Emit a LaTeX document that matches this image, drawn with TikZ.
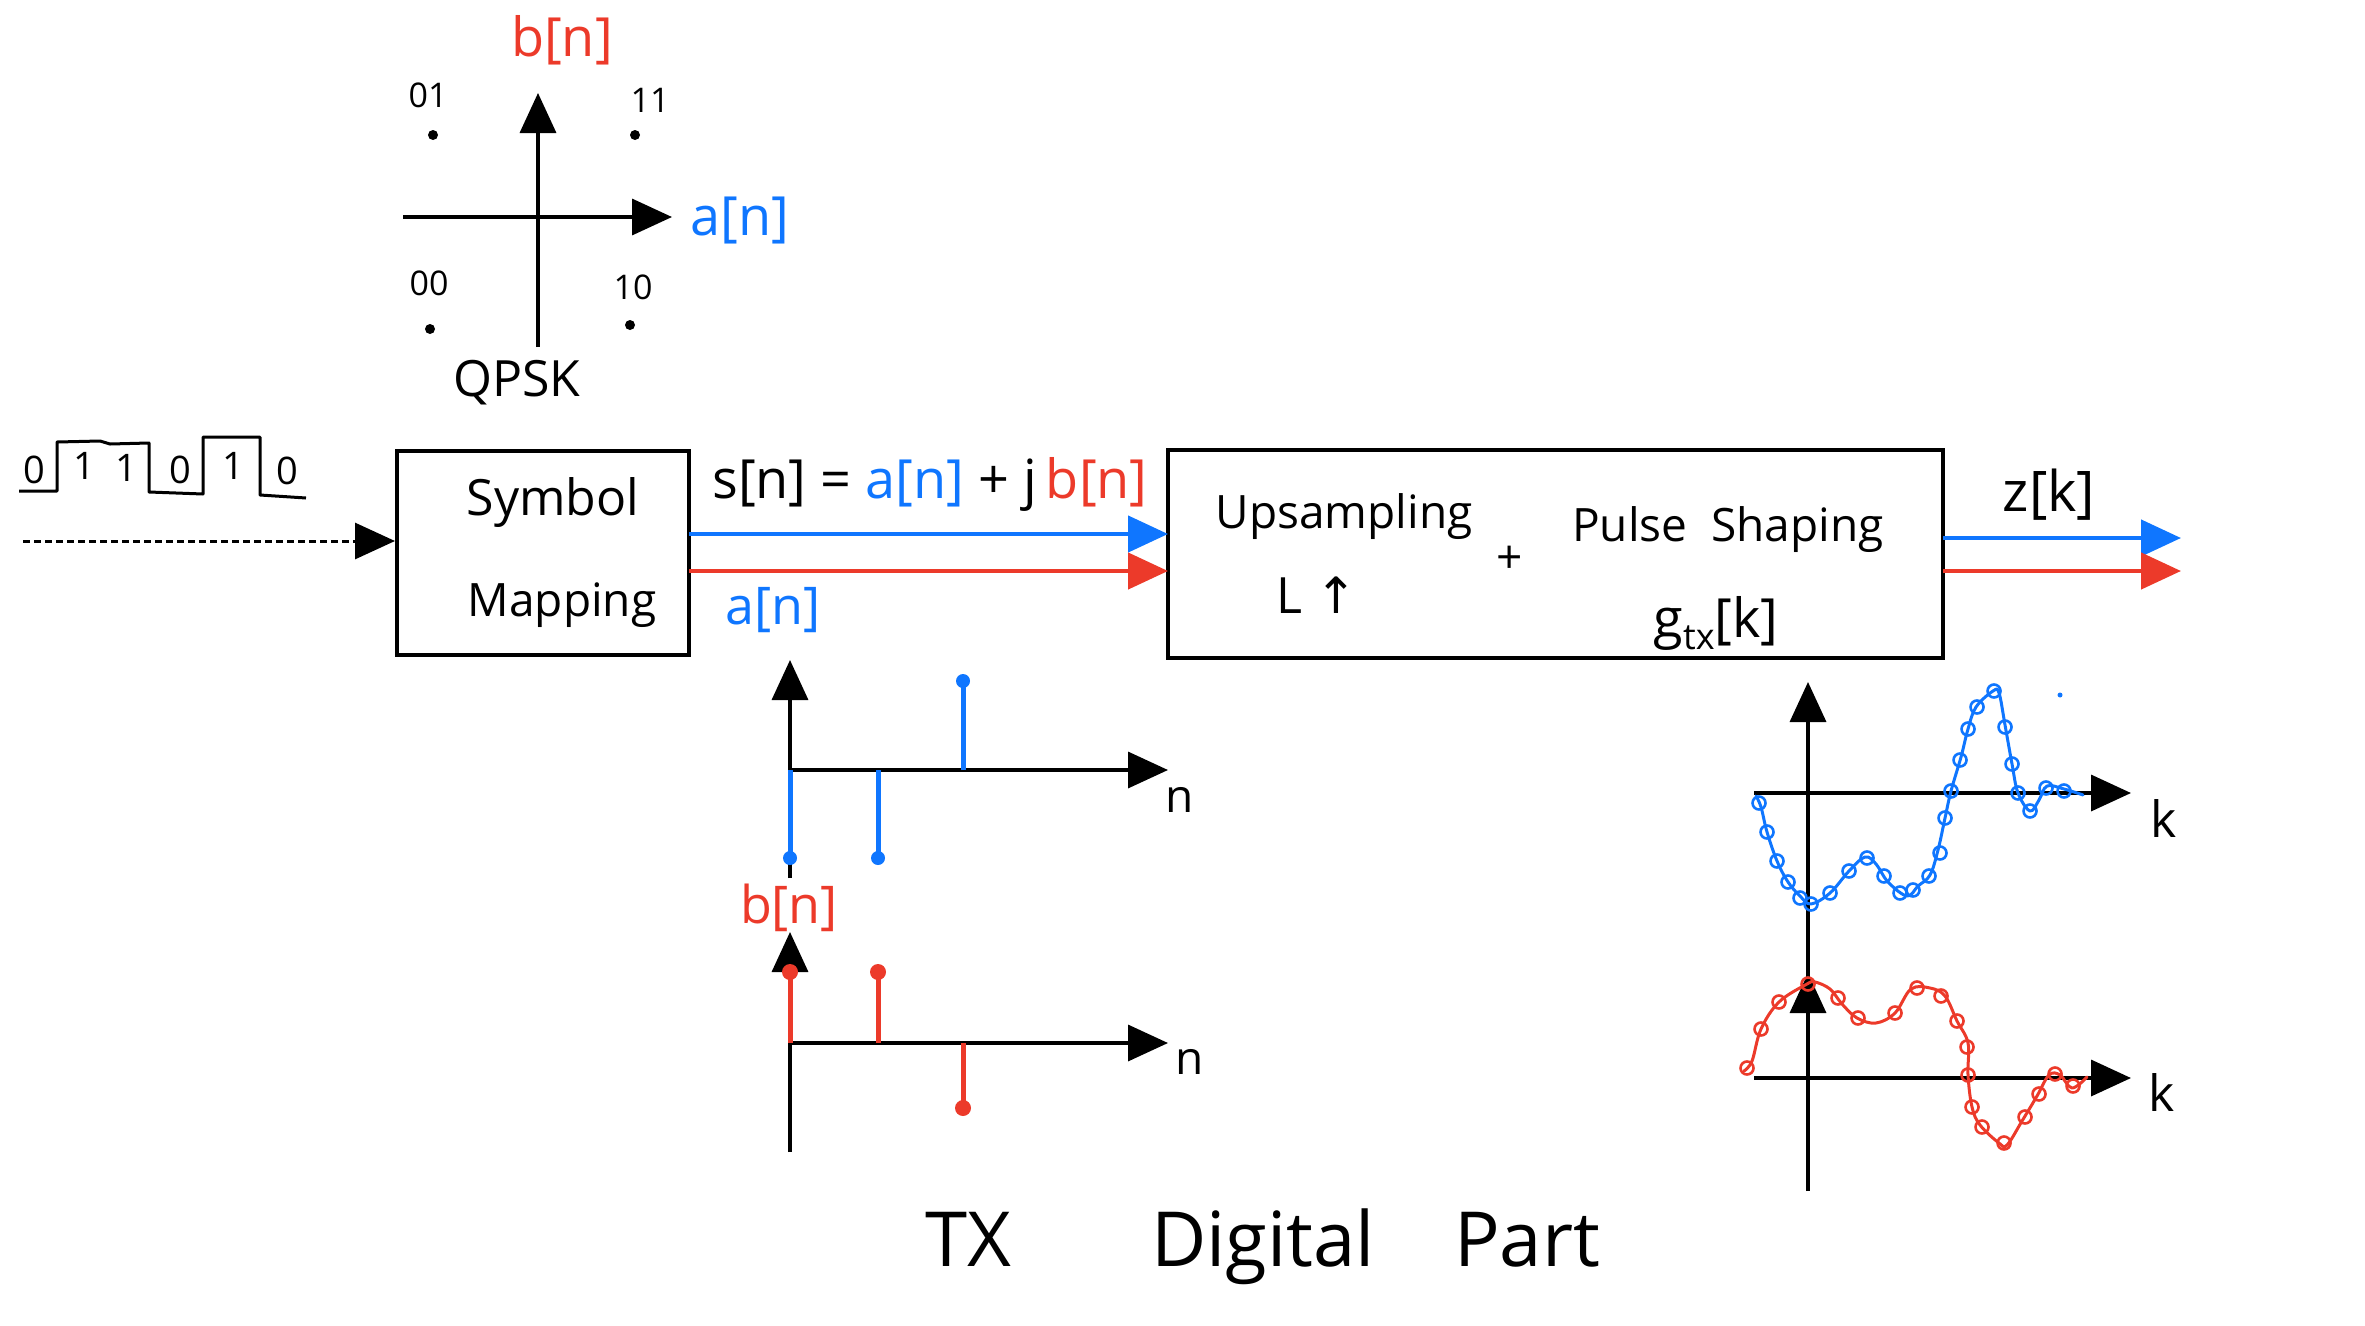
\documentclass[tikz,border=0pt]{standalone}
\usepackage{fontspec}
\setmainfont{Open Sans}
\newfontfamily\dvfont{DejaVu Sans}
\usetikzlibrary{arrows.meta}
\definecolor{cblue}{RGB}{15,118,255}
\definecolor{cred}{RGB}{236,58,42}
\newcommand\myfs[1]{\fontsize{#1}{#1}\selectfont}
\begin{document}
\begin{tikzpicture}[x=1pt,y=-1pt,
  axisline/.style={line width=3.5pt, -{Triangle[length=40pt,width=36pt]}},
  sigline/.style={line width=4.5pt, -{Triangle[length=40pt,width=36pt]}},
  blockbox/.style={draw, line width=4pt, inner sep=0pt},
  lbl/.style={inner sep=0pt, font=\myfs{46}},
  small/.style={inner sep=0pt, font=\myfs{34}},
  stem/.style={line width=5pt},
  loopc/.style={line width=2.6pt},
  curve/.style={line width=3pt, line join=round, line cap=round}
]
\useasboundingbox (0,0) rectangle (2365,1325);

% ---------- QPSK constellation ----------
\coordinate (cvb) at (538,347);
\coordinate (cvt) at (538,93);
\coordinate (chl) at (403,217);
\coordinate (chr) at (672,217);
\draw[axisline] (cvb) -- (cvt);
\draw[axisline] (chl) -- (chr);
\fill (433,135) circle[radius=5];
\fill (635,135) circle[radius=5];
\fill (430,329) circle[radius=5];
\fill (630,325) circle[radius=5];
\node[small] (l01) at (428,95) {01};
\node[small] (l11) at (650,100) {11};
\node[small] (l00) at (429,283) {00};
\node[small] (l10) at (633,287) {10};
\node[lbl, font=\myfs{54}, text=cred] (cb) at (562,40) {b[n]};
\node[lbl, font=\myfs{54}, text=cblue] (ca) at (740,220) {a[n]};
\node[lbl, font=\myfs{50}] (qpsk) at (517,383) {QPSK};

% ---------- bit stream ----------
\draw[line width=3pt, line join=round] (19,491) -- (57,491) -- (57,442) -- (100,441) -- (110,444) -- (149,443)
  -- (149,492) -- (203,494) -- (203,437) -- (260,437) -- (260,495) -- (306,498);
\node[small, font=\myfs{38}] (d1) at (34,470) {0};
\node[small, font=\myfs{38}] (d2) at (84,466) {1};
\node[small, font=\myfs{38}] (d3) at (126,468) {1};
\node[small, font=\myfs{38}] (d4) at (180,470) {0};
\node[small, font=\myfs{38}] (d5) at (233,466) {1};
\node[small, font=\myfs{38}] (d6) at (287,471) {0};
\coordinate (din) at (23,541);

% ---------- blocks ----------
\node[blockbox, minimum width=292pt, minimum height=204pt] (symb) at (543,553) {};
\node[lbl, font=\myfs{50}] (t1) at (553,503) {Symbol};
\node[lbl] (t2) at (562,605) {Mapping};

\node[blockbox, minimum width=775pt, minimum height=208pt] (ups) at (1555.5,554) {};
\node[lbl] (t3) at (1344,517) {Upsampling};
\node[lbl, font=\myfs{50}] (t4) at (1317,595) {L \dvfont↑};
\node[lbl] (t5) at (1510,560) {+};
\node[lbl] (t6) at (1728,530) {Pulse\ \ Shaping};
\node[lbl, font=\myfs{54}] (t7) at (1716,623) {g\raisebox{-12pt}{\myfs{36}tx}[k]};

\draw[line width=3pt, dash pattern=on 7pt off 4pt, -{Triangle[length=40pt,width=36pt]}] (din) -- (symb.west |- din);

% signal lines
\coordinate (sb1) at (689,534);
\coordinate (sr1) at (689,571);
\coordinate (ub1) at (1168,534);
\coordinate (ur1) at (1168,571);
\draw[sigline, cblue] (sb1) -- (ub1);
\draw[sigline, cred] (sr1) -- (ur1);
\node[lbl, font=\myfs{54}] (eq) at (930,484) {s[n] = \textcolor{cblue}{a[n]} + j\,\textcolor{cred}{b[n]}};
\node[lbl, font=\myfs{52}, text=cblue] (an) at (773,610) {a[n]};

\coordinate (ob1) at (1943,538);
\coordinate (or1) at (1943,571);
\coordinate (ob2) at (2181,538);
\coordinate (or2) at (2181,571);
\draw[sigline, cblue] (ob1) -- (ob2);
\draw[sigline, cred] (or1) -- (or2);
\node[lbl, font=\myfs{56}] (zk) at (2049,495) {z[k]};

% ---------- stem plot a[n] ----------
\coordinate (s1b) at (790,878);
\coordinate (s1t) at (790,660);
\coordinate (s1l) at (790,770);
\coordinate (s1r) at (1168,770);
\draw[axisline] (s1b) -- (s1t);
\draw[axisline] (s1l) -- (s1r);
\draw[stem, cblue] (790,770) -- (790,858);
\draw[stem, cblue] (878,770) -- (878,858);
\draw[stem, cblue] (963,770) -- (963,681);
\fill[cblue] (790,858) circle[radius=7];
\fill[cblue] (878,858) circle[radius=7];
\fill[cblue] (963,681) circle[radius=7];
\node[lbl] (n1) at (1180,800) {n};

% ---------- stem plot b[n] ----------
\node[lbl, font=\myfs{52}, text=cred] (bn) at (789,908) {b[n]};
\coordinate (s2b) at (790,1152);
\coordinate (s2t) at (790,932);
\coordinate (s2l) at (790,1043);
\coordinate (s2r) at (1168,1043);
\draw[axisline] (s2b) -- (s2t);
\draw[axisline] (s2l) -- (s2r);
\draw[stem, cred] (790,1043) -- (790,972);
\draw[stem, cred] (878,1043) -- (878,972);
\draw[stem, cred] (963,1043) -- (963,1108);
\fill[cred] (790,972) circle[radius=8];
\fill[cred] (878,972) circle[radius=8];
\fill[cred] (963,1108) circle[radius=8];
\node[lbl] (n2) at (1190,1062) {n};

% ---------- waveform plots ----------
\coordinate (wvb) at (1808,1191);
\coordinate (wvt) at (1808,682);
\coordinate (wv2a) at (1808,1020);
\coordinate (wv2t) at (1808,973);
\coordinate (w1l) at (1754,793);
\coordinate (w1r) at (2131,793);
\coordinate (w2l) at (1754,1078);
\coordinate (w2r) at (2131,1078);
\draw[axisline] (wvb) -- (wvt);
\draw[axisline] (wv2a) -- (wv2t);
\draw[axisline] (w1l) -- (w1r);
\draw[axisline] (w2l) -- (w2r);
\node[lbl, font=\myfs{50}] (k1) at (2164,818) {k};
\node[lbl, font=\myfs{50}] (k2) at (2162,1092) {k};

\draw[curve, cblue] plot[smooth, tension=0.6] coordinates {
 (1756,796) (1761,807) (1767,832) (1777,861) (1788,882) (1800,896) (1811,904)
 (1830,893) (1849,871) (1865,857) (1876,864) (1888,882) (1907,896) (1918,886)
 (1930,875) (1938,850) (1945,818) (1951,791) (1961,757) (1968,729) (1976,707)
 (1993,691) (1999,693) (2005,725) (2012,764) (2018,793) (2030,811) (2039,800)
 (2047,786) (2064,789) (2083,795)};
\foreach \p in {(1759,803),(1767,832),(1777,861),(1788,882),(1811,904),(1800,898),(1830,893),(1849,871),
  (1867,858),(1884,876),(1900,893),(1913,890),(1929,876),(1940,853),(1945,818),(1951,791),
  (1960,760),(1968,729),(1977,707),(1994,691),(2005,727),(2012,764),(2018,793),(2030,811),
  (2046,788),(2064,791)}
  \draw[loopc, cblue] \p circle[radius=6.5];
\fill[cblue] (2060,695) circle[radius=2.5];

\draw[curve, cred] plot[smooth, tension=0.6] coordinates {
 (1744,1071) (1752,1061) (1761,1029) (1779,1002) (1807,984) (1815,982) (1830,989)
 (1842,1004) (1857,1018) (1876,1023) (1895,1013) (1911,989) (1930,988) (1945,996)
 (1957,1021) (1968,1043) (1968,1075) (1972,1107) (1980,1125) (1999,1143) (2007,1145)
 (2022,1121) (2037,1096) (2049,1075) (2060,1075) (2072,1088) (2087,1077)};
\foreach \p in {(1747,1068),(1761,1029),(1779,1002),(1808,984),(1838,998),(1858,1018),
  (1895,1013),(1917,988),(1941,996),(1957,1021),(1967,1047),(1968,1075),(1972,1107),
  (1982,1127),(2004,1143),(2025,1117),(2039,1094),(2055,1074),(2073,1086)}
  \draw[loopc, cred] \p circle[radius=6.5];

% ---------- title ----------
\node[lbl, font=\myfs{76}, anchor=base] (tx) at (968,1266) {TX};
\node[lbl, font=\myfs{76}, anchor=base] (dig) at (1263,1266) {Digital};
\node[lbl, font=\myfs{76}, anchor=base] (part) at (1527,1266) {Part};
\end{tikzpicture}
\end{document}
